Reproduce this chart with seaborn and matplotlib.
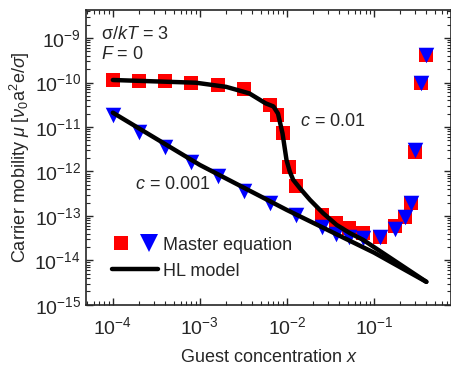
import numpy as np
import pandas as pd
import seaborn as sns
import matplotlib
matplotlib.use("Agg")
import matplotlib.pyplot as plt
from matplotlib.lines import Line2D
from matplotlib.legend_handler import HandlerTuple
from matplotlib.ticker import LogLocator, NullFormatter, FuncFormatter

# master equation results, c = 0.01 (squares)
x_sq = [1e-4, 2e-4, 4e-4, 8e-4, 1.6e-3, 3.2e-3, 6.4e-3, 7.6e-3, 9e-3, 1.05e-2,
        1.27e-2, 2.56e-2, 3.7e-2, 5.2e-2, 7.4e-2, 0.117, 0.174, 0.23, 0.27,
        0.30, 0.35, 0.40]
mu_sq = [1.14e-10, 1.10e-10, 1.06e-10, 9.9e-11, 8.8e-11, 7.0e-11, 3.1e-11,
         1.86e-11, 7.4e-12, 1.28e-12, 4.7e-13, 1.05e-13, 7.1e-14, 5.4e-14,
         4.2e-14, 3.4e-14, 5.8e-14, 9.6e-14, 2.0e-13, 2.8e-12, 9.6e-11, 4.1e-10]

# master equation results, c = 0.001 (triangles)
x_tri = [1e-4, 2e-4, 4e-4, 8e-4, 1.6e-3, 3.2e-3, 6.4e-3, 1.28e-2, 2.56e-2,
         3.7e-2, 5.2e-2, 7.4e-2, 0.117, 0.174, 0.23, 0.27, 0.30, 0.35, 0.40]
mu_tri = [1.86e-11, 7.8e-12, 3.5e-12, 1.66e-12, 7.9e-13, 3.7e-13, 2.0e-13,
          1.05e-13, 5.5e-14, 4.0e-14, 3.4e-14, 3.2e-14, 3.3e-14, 5.1e-14,
          9.3e-14, 1.95e-13, 3.0e-12, 9.6e-11, 4.1e-10]

# HL model curves
x_hl1 = [1e-4, 9e-4, 2e-3, 3.7e-3, 5.7e-3, 7.0e-3, 7.9e-3, 8.9e-3, 9.9e-3,
         1.08e-2, 1.18e-2, 1.41e-2, 1.84e-2, 2.61e-2, 3.72e-2, 5.3e-2, 7.5e-2,
         0.153, 0.40]
mu_hl1 = [1.14e-10, 9.9e-11, 8.0e-11, 5.7e-11, 3.4e-11, 2.9e-11, 2.0e-11,
          7.2e-12, 1.8e-12, 9.9e-13, 6.5e-13, 4.2e-13, 2.3e-13, 1.15e-13,
          6.3e-14, 4.1e-14, 2.9e-14, 1.15e-14, 3.3e-15]
x_hl2 = [1e-4, 1e-3, 1e-2, 1e-1, 0.40]
mu_hl2 = [2.1e-11, 1.4e-12, 1.36e-13, 1.5e-14, 3.3e-15]

sns.set_style("ticks")
plt.rcParams["font.family"] = ["Liberation Sans", "DejaVu Sans"]
plt.rcParams["mathtext.fontset"] = "custom"
plt.rcParams["mathtext.rm"] = "Liberation Sans"
plt.rcParams["mathtext.it"] = "Liberation Sans:italic"

fig = plt.figure(figsize=(4.52, 3.66), dpi=100)
ax = fig.add_axes([0.19, 0.167, 0.808, 0.806])

df_sq = pd.DataFrame({"x": x_sq, "mu": mu_sq})
df_tri = pd.DataFrame({"x": x_tri, "mu": mu_tri})
df_hl1 = pd.DataFrame({"x": x_hl1, "mu": mu_hl1})
df_hl2 = pd.DataFrame({"x": x_hl2, "mu": mu_hl2})

sns.scatterplot(x="x", y="mu", data=df_sq, marker="s", s=90, color="#ff0000",
                linewidth=0, ax=ax, zorder=2)
sns.scatterplot(x="x", y="mu", data=df_tri, marker="v", s=125, color="#0000ff",
                linewidth=0, ax=ax, zorder=3)
sns.lineplot(x="x", y="mu", data=df_hl2, color="black", lw=3.2,
             estimator=None, ax=ax, zorder=4, solid_capstyle="round")
sns.lineplot(x="x", y="mu", data=df_hl1, color="black", lw=3.2,
             estimator=None, ax=ax, zorder=4, solid_capstyle="round")

ax.set_xscale("log")
ax.set_yscale("log")
ax.set_xlim(4.9e-5, 0.77)
ax.set_ylim(1e-15, 4.3e-9)
ax.yaxis.set_major_locator(LogLocator(base=10, numticks=20))
ax.yaxis.set_minor_locator(LogLocator(base=10, subs=np.arange(2, 10), numticks=20))
ax.yaxis.set_minor_formatter(NullFormatter())
ax.xaxis.set_minor_formatter(NullFormatter())
pow_fmt = FuncFormatter(lambda v, p: "$10^{%d}$" % round(np.log10(v)))
ax.xaxis.set_major_formatter(pow_fmt)
ax.yaxis.set_major_formatter(pow_fmt)
ax.tick_params(which="both", direction="in", top=True, right=True, labelsize=14)
ax.tick_params(axis="x", which="major", pad=8)
ax.tick_params(which="major", length=5, width=1)
ax.tick_params(which="minor", length=3, width=0.8)
for sp in ax.spines.values():
    sp.set_linewidth(1.2)

ax.set_xlabel("Guest concentration $x$", fontsize=13, labelpad=8)
ax.set_ylabel(r"Carrier mobility $\mu$ [$\nu_0\mathrm{a}^2\mathrm{e}/\sigma$]",
              fontsize=13, labelpad=2)

ax.text(0.041, 0.915, r"$\mathrm{\sigma}/kT$ = 3", transform=ax.transAxes,
        fontsize=13, va="center")
ax.text(0.041, 0.848, "$F$ = 0", transform=ax.transAxes, fontsize=13, va="center")
ax.text(1.4e-2, 1.35e-11, "$c$ = 0.01", fontsize=13, va="center")
ax.text(1.8e-4, 5.2e-13, "$c$ = 0.001", fontsize=13, va="center")

h_sq = Line2D([], [], marker="s", ls="", color="#ff0000", markersize=10, mew=0)
h_tri = Line2D([], [], marker="v", ls="", color="#0000ff", markersize=13, mew=0)
h_line = Line2D([], [], color="black", lw=3.2, solid_capstyle="round")
ax.legend([(h_sq, h_tri), h_line], ["Master equation", "HL model"],
          handler_map={tuple: HandlerTuple(ndivide=None, pad=0.5)},
          loc="center left", bbox_to_anchor=(0.071, 0.158), frameon=False,
          fontsize=13, handlelength=2.55, handletextpad=0.3, labelspacing=0.5,
          borderpad=0, borderaxespad=0)

fig.savefig("out.png", dpi=100)
